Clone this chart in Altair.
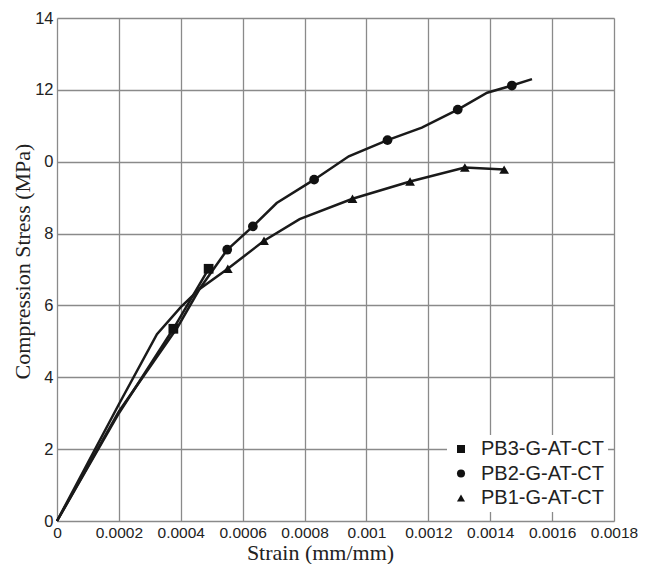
import altair as alt
import pandas as pd

series_names = ["PB3-G-AT-CT", "PB2-G-AT-CT", "PB1-G-AT-CT"]

# curve vertices
pb3_strain = [0, 0.0002, 0.000376, 0.00049]
pb3_stress = [0, 3.0, 5.35, 7.02]
pb2_strain = [0, 0.0002, 0.00039, 0.00046, 0.00055, 0.000633, 0.00071, 0.000831,
              0.000943, 0.001068, 0.001179, 0.001295, 0.00139, 0.00147, 0.001535]
pb2_stress = [0, 3.05, 5.4, 6.45, 7.55, 8.2, 8.85, 9.5, 10.15, 10.6, 10.95, 11.45,
              11.92, 12.12, 12.3]
pb1_strain = [0, 0.0002, 0.000323, 0.0004, 0.00046, 0.000552, 0.000669, 0.000784,
              0.000955, 0.001141, 0.001318, 0.001445]
pb1_stress = [0, 3.25, 5.2, 5.95, 6.45, 7.02, 7.8, 8.4, 8.97, 9.45, 9.84, 9.78]

# marker points
pb3_mark_strain = [0.000376, 0.00049]
pb3_mark_stress = [5.35, 7.02]
pb2_mark_strain = [0.00055, 0.000633, 0.000831, 0.001068, 0.001295, 0.00147]
pb2_mark_stress = [7.55, 8.2, 9.5, 10.6, 11.45, 12.12]
pb1_mark_strain = [0.000552, 0.000669, 0.000955, 0.001141, 0.001318, 0.001445]
pb1_mark_stress = [7.02, 7.8, 8.97, 9.45, 9.84, 9.78]

x_ticks = [0, 0.0002, 0.0004, 0.0006, 0.0008, 0.001, 0.0012, 0.0014, 0.0016, 0.0018]
y_ticks = [0, 2, 4, 6, 8, 10, 12, 14]

def frame(sx, sy, name):
    return pd.DataFrame({"strain": sx, "stress": sy, "series": name,
                         "idx": list(range(len(sx)))})

lines_df = pd.concat([
    frame(pb3_strain, pb3_stress, series_names[0]),
    frame(pb2_strain, pb2_stress, series_names[1]),
    frame(pb1_strain, pb1_stress, series_names[2]),
])
marks_df = pd.concat([
    frame(pb3_mark_strain, pb3_mark_stress, series_names[0]),
    frame(pb2_mark_strain, pb2_mark_stress, series_names[1]),
    frame(pb1_mark_strain, pb1_mark_stress, series_names[2]),
])

x_enc = alt.X("strain:Q",
              scale=alt.Scale(domain=[0, 0.0018], nice=False),
              axis=alt.Axis(values=x_ticks, title="Strain (mm/mm)",
                            labelExpr="datum.value == 0 ? '0' : format(datum.value, '~g')",
                            labelFont="Liberation Sans", labelFontSize=15.5,
                            labelColor="#222", labelPadding=4,
                            titleFont="Liberation Serif", titleFontSize=22,
                            titleFontWeight="normal", titleColor="#222",
                            titlePadding=2, titleX=263, ticks=False, domain=False,
                            grid=True, gridColor="#8a8a8a", gridWidth=1.3,
                            labelFlush=False))
y_enc = alt.Y("stress:Q",
              scale=alt.Scale(domain=[0, 14], nice=False),
              axis=alt.Axis(values=y_ticks, title="Compression Stress (MPa)",
                            labelExpr="datum.value == 10 ? '0' : datum.label",
                            labelFont="Liberation Sans", labelFontSize=16.5,
                            labelColor="#222", labelPadding=4,
                            titleFont="Liberation Serif", titleFontSize=22,
                            titleFontWeight="normal", titleColor="#222",
                            titlePadding=0, titleY=243, ticks=False, domain=False,
                            grid=True, gridColor="#8a8a8a", gridWidth=1.3))

line_layer = alt.Chart(lines_df).mark_line(color="#1a1a1a", strokeWidth=2.5).encode(
    x=x_enc, y=y_enc, detail="series:N", order="idx:Q")

point_layer = alt.Chart(marks_df).mark_point(filled=True, opacity=1, color="#111").encode(
    x="strain:Q", y="stress:Q",
    shape=alt.Shape("series:N",
                    scale=alt.Scale(domain=series_names,
                                    range=["square", "circle", "triangle-up"]),
                    legend=alt.Legend(title=None, orient="none", legendX=390, legendY=417,
                                      fillColor="white", padding=4,
                                      labelFont="Liberation Sans", labelFontSize=20,
                                      labelColor="#222", symbolFillColor="#111",
                                      symbolStrokeColor="#111", symbolSize=65,
                                      labelOffset=10, rowPadding=4.5, symbolOffset=0)),
    size=alt.value(95))

chart = alt.layer(line_layer, point_layer).properties(
    width=557, height=503,
    autosize=alt.AutoSizeParams(type="none"),
    padding={"left": 49, "top": 10, "right": 24, "bottom": 43}
).configure_view(stroke="#8a8a8a", strokeWidth=1.5).configure(background="white")

chart.save("out.html", embed_options={"renderer": "svg", "actions": False})
